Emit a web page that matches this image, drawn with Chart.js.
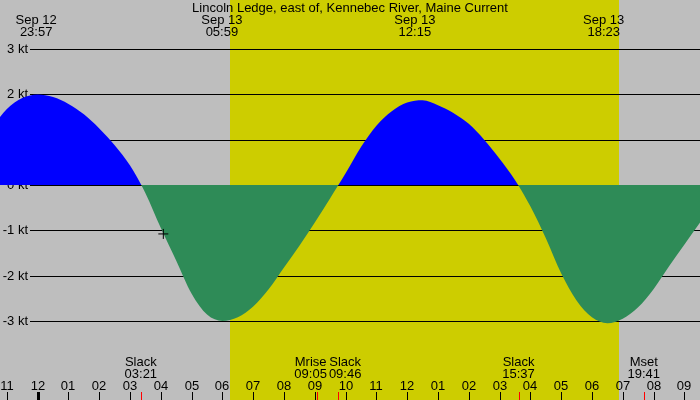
<!DOCTYPE html>
<html>
<head>
<meta charset="utf-8">
<style>
  html, body { margin: 0; padding: 0; background: #bebebe; }
  #wrap { width: 700px; height: 400px; }
</style>
</head>
<body>
<div id="wrap"><canvas id="myChart" width="700" height="400"></canvas></div>
<script src="https://cdn.jsdelivr.net/npm/chart.js"></script>
<script>
    // hours from midnight Sep 13 (negative = Sep 12), current in knots
    const hours = [-1.5, -1.0, -0.5, 0, 0.5, 1.0, 1.5, 2.0, 2.5, 3.0,
                   3.5, 4.0, 4.5, 5.0, 5.5, 6.0, 6.5, 7.0, 7.5, 8.0, 8.5, 9.0, 9.5,
                   10.0, 10.5, 11.0, 11.5, 12.0, 12.5, 13.0, 13.5, 14.0, 14.5, 15.0, 15.5,
                   16.0, 16.5, 17.0, 17.5, 18.0, 18.5, 19.0, 19.5, 20.0, 20.5, 21.0, 21.5, 22.0];
    const knots = [1.25, 1.68, 1.92, 2.0, 1.94, 1.79, 1.56, 1.25, 0.88, 0.43,
                   -0.18, -0.95, -1.67, -2.40, -2.86, -3.0, -2.92, -2.68, -2.30, -1.82, -1.34, -0.83, -0.29,
                   0.26, 0.84, 1.31, 1.63, 1.82, 1.87, 1.76, 1.59, 1.35, 1.0, 0.58, 0.11,
                   -0.47, -1.17, -1.95, -2.55, -2.92, -3.05, -2.95, -2.70, -2.30, -1.80, -1.32, -0.84, -0.36];

    const yTicks = [3, 2, 1, 0, -1, -2, -3];
    const yLabels = ['3 kt', '2 kt', '1 kt', '0 kt', '-1 kt', '-2 kt', '-3 kt'];

    const hourTicks = [-1, 0, 1, 2, 3, 4, 5, 6, 7, 8, 9, 10, 11, 12, 13, 14, 15, 16, 17, 18, 19, 20, 21];
    const hourLabels = ['11', '12', '01', '02', '03', '04', '05', '06', '07', '08', '09', '10',
                        '11', '12', '01', '02', '03', '04', '05', '06', '07', '08', '09'];

    // max flood / max ebb
    const peakTimes = [-0.05, 5.983, 12.25, 18.383];
    const peakDates = ['Sep 12', 'Sep 13', 'Sep 13', 'Sep 13'];
    const peakClock = ['23:57', '05:59', '12:15', '18:23'];

    // slack water and moon events
    const eventTimes = [3.35, 9.083, 9.767, 15.617, 19.683];
    const eventNames = ['Slack', 'Mrise', 'Slack', 'Slack', 'Mset'];
    const eventClock = ['03:21', '09:05', '09:46', '15:37', '19:41'];

    const sunrise = 6.25;
    const sunset = 18.88;

    const nowTime = [4.08];
    const nowValue = [-1.08];

    const title = 'Lincoln Ledge, east of, Kennebec River, Maine Current';

    const FONT = '13px "Liberation Sans", Arial, sans-serif';

    const tidePlugin = {
        id: 'tide',
        beforeDraw(chart) {
            const ctx = chart.ctx, x = chart.scales.x;
            ctx.save();
            ctx.fillStyle = '#bebebe';
            ctx.fillRect(0, 0, chart.width, chart.height);
            const x0 = Math.round(x.getPixelForValue(sunrise));
            const x1 = Math.round(x.getPixelForValue(sunset));
            ctx.fillStyle = '#cdcd00';
            ctx.fillRect(x0, 0, x1 - x0, chart.height);
            ctx.restore();
        },
        beforeDatasetsDraw(chart) {
            const ctx = chart.ctx, y = chart.scales.y;
            ctx.save();
            ctx.strokeStyle = '#000';
            ctx.lineWidth = 1;
            ctx.font = FONT;
            ctx.fillStyle = '#000';
            ctx.textAlign = 'right';
            ctx.textBaseline = 'middle';
            yTicks.forEach((v, i) => {
                const py = Math.round(y.getPixelForValue(v)) + 0.5;
                ctx.beginPath();
                ctx.moveTo(30, py);
                ctx.lineTo(chart.width, py);
                ctx.stroke();
                ctx.fillText(yLabels[i], 28, py);
            });
            ctx.restore();
        },
        afterDatasetsDraw(chart) {
            const ctx = chart.ctx, x = chart.scales.x;
            ctx.save();
            ctx.font = FONT;
            ctx.fillStyle = '#000';
            ctx.textAlign = 'center';
            ctx.textBaseline = 'alphabetic';

            ctx.fillText(title, chart.width / 2, 12);

            peakTimes.forEach((t, i) => {
                const px = x.getPixelForValue(t);
                ctx.fillText(peakDates[i], px, 24);
                ctx.fillText(peakClock[i], px, 36);
            });

            // event labels, nudged apart when they overlap
            const boxes = eventTimes.map((t, i) => ({
                cx: x.getPixelForValue(t),
                w: Math.max(ctx.measureText(eventNames[i]).width, ctx.measureText(eventClock[i]).width)
            }));
            for (let k = 0; k < 5; k++) {
                for (let i = 0; i < boxes.length - 1; i++) {
                    const a = boxes[i], b = boxes[i + 1];
                    const overlap = (a.cx + a.w / 2 + 2) - (b.cx - b.w / 2);
                    if (overlap > 0) {
                        a.cx -= overlap / 2;
                        b.cx += overlap / 2;
                    }
                }
            }
            boxes.forEach((b, i) => {
                ctx.fillText(eventNames[i], b.cx, 366);
                ctx.fillText(eventClock[i], b.cx, 378);
            });

            hourTicks.forEach((t, i) => {
                const px = Math.round(x.getPixelForValue(t));
                ctx.fillText(hourLabels[i], px, 390);
                ctx.fillRect(t === 0 ? px - 1 : px, 392, t === 0 ? 3 : 1, 8);
            });

            ctx.fillStyle = '#ff0000';
            eventTimes.forEach(t => {
                const px = Math.round(x.getPixelForValue(t));
                ctx.fillRect(px, 392, 1, 8);
            });
            ctx.restore();
        }
    };

    new Chart(document.getElementById('myChart'), {
        type: 'line',
        data: {
            datasets: [{
                label: 'now',
                data: nowTime.map((h, i) => ({ x: h, y: nowValue[i] })),
                showLine: false,
                pointStyle: 'cross',
                pointRadius: 5,
                pointBorderColor: '#000',
                pointBorderWidth: 1,
                fill: false
            }, {
                label: 'current',
                data: hours.map((h, i) => ({ x: h, y: knots[i] })),
                borderWidth: 0,
                borderColor: 'rgba(0,0,0,0)',
                pointRadius: 0,
                cubicInterpolationMode: 'monotone',
                fill: { target: 'origin', above: '#0000ff', below: '#2e8b57' }
            }]
        },
        options: {
            responsive: false,
            devicePixelRatio: 1,
            animation: false,
            layout: { padding: 0, autoPadding: false },
            scales: {
                x: { type: 'linear', min: -1.224, max: 21.51, display: false },
                y: { min: -4.746, max: 4.084, display: false }
            },
            plugins: {
                legend: { display: false },
                tooltip: { enabled: false }
            }
        },
        plugins: [tidePlugin]
    });
</script>
</body>
</html>
